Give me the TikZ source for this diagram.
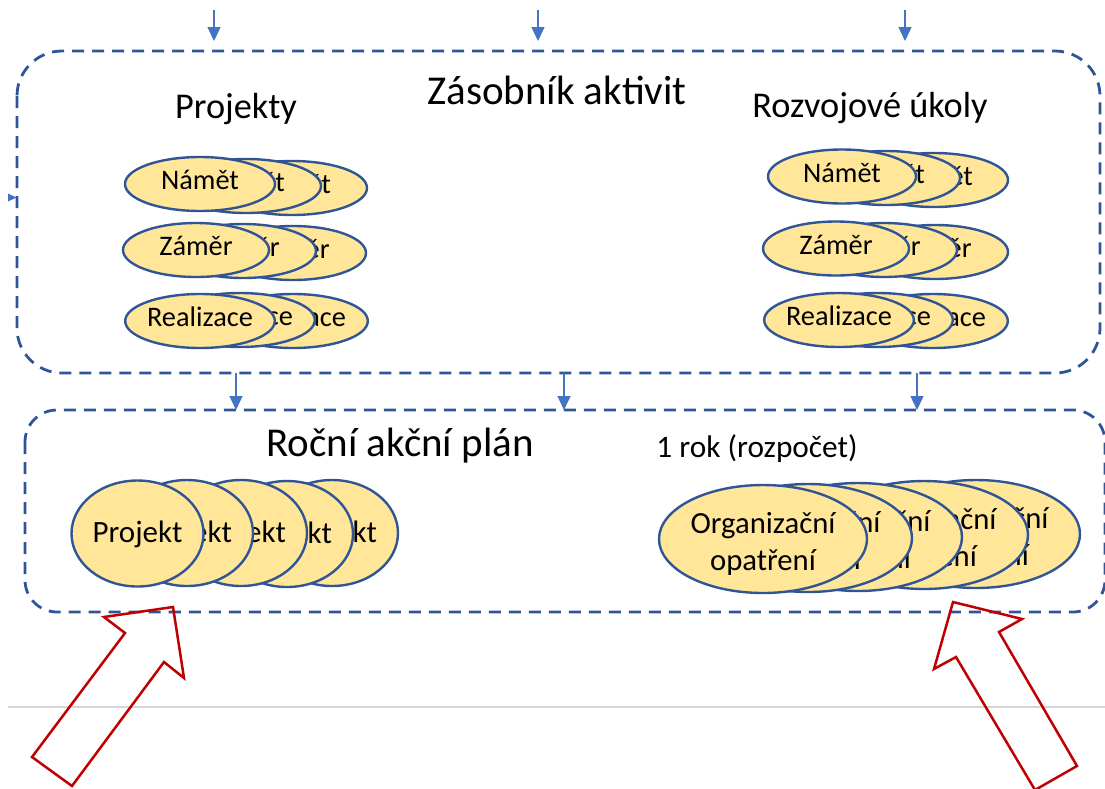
\documentclass[tikz,border=0pt]{standalone}
\usepackage{fontspec}
\setmainfont{Carlito}
\usetikzlibrary{arrows.meta,shapes.geometric}
\definecolor{boxblue}{HTML}{2F5597}
\definecolor{ellfill}{HTML}{FFE699}
\definecolor{arrblue}{HTML}{4472C4}
\definecolor{arrred}{HTML}{C00000}
\definecolor{rulegray}{HTML}{D6D6D6}
\begin{document}
\begin{tikzpicture}[x=1pt,y=-1pt,
  dashbox/.style={draw=boxblue, line width=2.8pt, dash pattern=on 12pt off 8pt},
  ell/.style={ellipse, draw=boxblue, fill=ellfill, line width=2.4pt, inner sep=0pt,
    minimum width=146pt, minimum height=54pt, font=\fontsize{28.3}{34}\selectfont,
    text height=18pt, text depth=7pt},
  projell/.style={ell, minimum width=132pt, minimum height=106pt,
    font=\fontsize{31}{37}\selectfont, text height=24pt, text depth=6pt},
  orgell/.style={ellipse, draw=boxblue, fill=ellfill, line width=2.4pt, inner sep=0pt,
    minimum width=208pt, minimum height=108pt, align=center,
    font=\fontsize{30.7}{37}\selectfont, text height=68pt, text depth=6pt},
  smallarrow/.style={draw=arrblue, line width=1.4pt, -{Triangle[length=14pt,width=13pt]}},
  bigarrow/.style={draw=arrred, line width=2.5pt, line join=miter},
  title/.style={anchor=base, font=\fontsize{41}{49}\selectfont},
  subtitle/.style={anchor=base, font=\fontsize{36.3}{43}\selectfont},
  note/.style={anchor=base, font=\fontsize{31.3}{38}\selectfont}
]
\useasboundingbox (0,0) rectangle (1105,788);

% gray rule
\draw[rulegray, line width=2pt] (8,707) -- (1105,707);

% containers
\draw[dashbox, rounded corners=45pt] (17,51) rectangle (1100,373);
\draw[dashbox, rounded corners=32pt] (25,410) rectangle (1105,612);

% titles
\node[title] (tz) at (557,104) {Zásobník aktivit};
\node[subtitle] (tp) at (236,118) {Projekty};
\node[subtitle] (tr) at (870,117) {Rozvojové úkoly};
\node[title] (tplan) at (400,456) {Roční akční plán};
\node[note] (trok) at (757,457) {1 rok (rozpočet)};

% left stacks
\node[ell, minimum width=150pt] (ln1c) at (292,188) {Námět};
\node[ell, minimum width=150pt] (ln1b) at (246,186) {Námět};
\node[ell, minimum width=150pt] (ln1a) at (200,184) {Námět};
\node[ell] (ln2c) at (293,253) {Záměr};
\node[ell] (ln2b) at (243,251) {Záměr};
\node[ell] (ln2a) at (196,250) {Záměr};
\node[ell] (ln3c) at (293,321) {Realizace};
\node[ell] (ln3b) at (240,320) {Realizace};
\node[ell] (ln3a) at (200,321) {Realizace};

% right stacks
\node[ell, minimum width=148pt] (rn1c) at (934,180) {Námět};
\node[ell, minimum width=148pt] (rn1b) at (886,178) {Námět};
\node[ell, minimum width=148pt] (rn1a) at (842,176.5) {Námět};
\node[ell] (rn2c) at (935,252) {Záměr};
\node[ell] (rn2b) at (884,250) {Záměr};
\node[ell] (rn2a) at (836,248.5) {Záměr};
\node[ell] (rn3c) at (933,321) {Realizace};
\node[ell] (rn3b) at (878,320) {Realizace};
\node[ell] (rn3a) at (839,320) {Realizace};

% projects
\node[projell] (p5) at (332,533) {Projekt};
\node[projell] (p4) at (287,534) {Projekt};
\node[projell] (p3) at (241,533) {Projekt};
\node[projell] (p2) at (187,533) {Projekt};
\node[projell] (p1) at (137.5,533.5) {Projekt};

% organisational measures
\node[orgell] (o5) at (976,534) {Organizační\\opatření};
\node[orgell] (o4) at (924,535) {Organizační\\opatření};
\node[orgell] (o3) at (858,537) {Organizační\\opatření};
\node[orgell] (o2) at (808,538) {Organizační\\opatření};
\node[orgell] (o1) at (763,539) {Organizační\\opatření};

% small arrows
\coordinate (ta1) at (214,10);  \coordinate (ta1e) at (214,41);
\coordinate (ta2) at (538,10);  \coordinate (ta2e) at (538,41);
\coordinate (ta3) at (905,10);  \coordinate (ta3e) at (905,41);
\draw[smallarrow] (ta1) -- (ta1e);
\draw[smallarrow] (ta2) -- (ta2e);
\draw[smallarrow] (ta3) -- (ta3e);
\coordinate (ma1) at (236,373); \coordinate (ma1e) at (236,410);
\coordinate (ma2) at (564,373); \coordinate (ma2e) at (564,410);
\coordinate (ma3) at (917,373); \coordinate (ma3e) at (917,410);
\draw[smallarrow] (ma1) -- (ma1e);
\draw[smallarrow] (ma2) -- (ma2e);
\draw[smallarrow] (ma3) -- (ma3e);
\fill[arrblue] (8,193.5) -- (16.5,197.5) -- (8,201.5) -- cycle;

% big red arrows
\draw[bigarrow] (32,757) -- (125,633) -- (104,617) -- (173,607) -- (184,678)
  -- (164,662) -- (72,786) -- cycle;
\draw[bigarrow] (953,602) -- (1022,619) -- (999,632) -- (1077,766)
  -- (1035,790) -- (956,657) -- (934,669) -- cycle;
\end{tikzpicture}
\end{document}
